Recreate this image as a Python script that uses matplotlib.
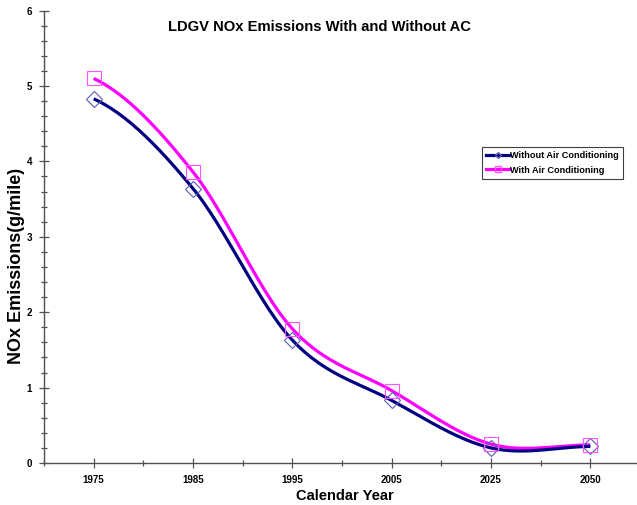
import numpy as np
import matplotlib.pyplot as plt
from matplotlib.ticker import MultipleLocator

plt.rcParams['font.family'] = ['Liberation Sans', 'DejaVu Sans']

years = ["1975", "1985", "1995", "2005", "2025", "2050"]
without_ac = [4.83, 3.64, 1.63, 0.83, 0.20, 0.22]
with_ac = [5.10, 3.86, 1.78, 0.96, 0.25, 0.24]


# Excel風のスムージング（Catmull-Rom）
def smooth(xs, ys, n=30):
    xs = np.asarray(xs, dtype=float)
    ys = np.asarray(ys, dtype=float)
    px = np.concatenate([[2*xs[0]-xs[1]], xs, [2*xs[-1]-xs[-2]]])
    py = np.concatenate([[ys[0]], ys, [ys[-1]]])
    out_x, out_y = [], []
    for i in range(1, len(px)-2):
        t = np.linspace(0, 1, n)
        x0, x1, x2, x3 = px[i-1:i+3]
        y0, y1, y2, y3 = py[i-1:i+3]
        mx1, mx2 = (x2-x0)/2, (x3-x1)/2
        my1, my2 = (y2-y0)/2, (y3-y1)/2
        h00 = 2*t**3-3*t**2+1
        h10 = t**3-2*t**2+t
        h01 = -2*t**3+3*t**2
        h11 = t**3-t**2
        out_x.append(h00*x1+h10*mx1+h01*x2+h11*mx2)
        out_y.append(h00*y1+h10*my1+h01*y2+h11*my2)
    return np.concatenate(out_x), np.concatenate(out_y)


fig = plt.figure(figsize=(6.37, 5.05), dpi=100)
ax = fig.add_axes([44/637, 1-463/505, 596/637, 452.4/505])

x = np.arange(len(years))

sx, sy = smooth(x, without_ac)
ax.plot(sx, sy, color='#000080', lw=2.3, solid_capstyle='butt', zorder=3)
sx, sy = smooth(x, with_ac)
ax.plot(sx, sy, color='#ff00ff', lw=2.3, solid_capstyle='butt', zorder=2)

ax.plot(x, without_ac, 'D', ms=8.5, mfc='none', mec='#5a5ab8', mew=0.8, zorder=4)
ax.plot(x, with_ac, 's', ms=9.5, mfc='none', mec='#ff55ff', mew=0.8, zorder=4)

# 凡例用
h1, = ax.plot([], [], color='#000080', lw=2.3, marker='D', ms=3,
              mfc='none', mec='#5a5ab8', label='Without Air Conditioning')
h2, = ax.plot([], [], color='#ff00ff', lw=2.3, marker='s', ms=4,
              mfc='none', mec='#ff55ff', label='With Air Conditioning')
leg = ax.legend(handles=[h1, h2], loc='upper left',
                bbox_to_anchor=(438/596, 1-(147-10.6)/452.4),
                frameon=True, fancybox=False, framealpha=1,
                edgecolor='#404040', borderpad=0.45, handlelength=2.5,
                handletextpad=0.15, labelspacing=0.6, borderaxespad=0,
                prop={'size': 6.6, 'weight': 'bold'})
leg.get_frame().set_linewidth(0.8)

ax.set_xlim(-0.5, 5.5)
ax.set_ylim(0, 6)
ax.set_xticks(x)
ax.set_xticklabels(years)
ax.xaxis.set_minor_locator(plt.FixedLocator(np.arange(-0.5, 6, 1)))
ax.yaxis.set_major_locator(MultipleLocator(1))
ax.yaxis.set_minor_locator(MultipleLocator(0.2))

for s in ['top', 'right']:
    ax.spines[s].set_visible(False)
for s in ['left', 'bottom']:
    ax.spines[s].set_color('#505050')
    ax.spines[s].set_linewidth(1.0)

ax.tick_params(axis='both', which='major', direction='inout', length=7,
               width=0.9, color='#505050', labelsize=7)
ax.tick_params(axis='both', which='minor', direction='inout', length=5,
               width=0.9, color='#505050')
ax.tick_params(axis='x', which='major', pad=5)
ax.tick_params(axis='y', which='major', pad=5)
for lab in ax.get_xticklabels() + ax.get_yticklabels():
    lab.set_fontweight('bold')

fig.text(345/637, 1-496/505, 'Calendar Year', ha='center', va='center',
         fontsize=10.5, fontweight='bold')
fig.text(17/637, 1-266/505, 'NOx Emissions(g/mile)', ha='center', va='center',
         rotation=90, fontsize=13, fontweight='bold')
fig.text(319/637, 1-27/505, 'LDGV NOx Emissions With and Without AC',
         ha='center', va='center', fontsize=10.6, fontweight='bold')

fig.savefig('out.png', dpi=100)
